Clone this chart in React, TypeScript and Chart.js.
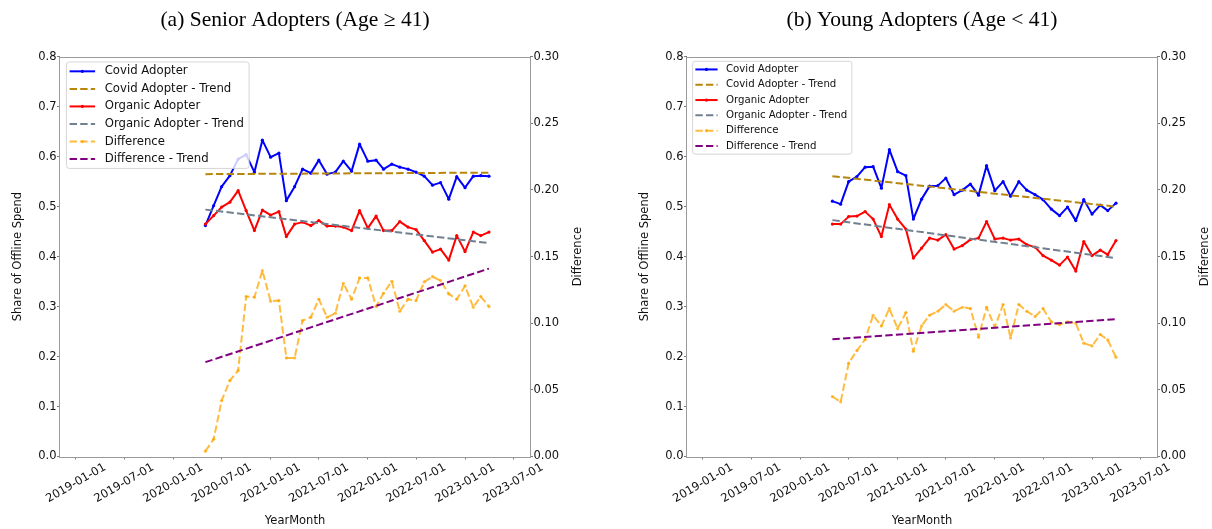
import React, { useEffect, useRef } from 'react';
import { Chart, registerables } from 'chart.js';
Chart.register(...registerables);

// ---------- data ----------
const months = [
  '2020-05-01', '2020-06-01', '2020-07-01', '2020-08-01', '2020-09-01', '2020-10-01', '2020-11-01', '2020-12-01',
  '2021-01-01', '2021-02-01', '2021-03-01', '2021-04-01', '2021-05-01', '2021-06-01', '2021-07-01', '2021-08-01',
  '2021-09-01', '2021-10-01', '2021-11-01', '2021-12-01', '2022-01-01', '2022-02-01', '2022-03-01', '2022-04-01',
  '2022-05-01', '2022-06-01', '2022-07-01', '2022-08-01', '2022-09-01', '2022-10-01', '2022-11-01', '2022-12-01',
  '2023-01-01', '2023-02-01', '2023-03-01', '2023-04-01',
];
const trendMonths = ['2020-05-01', '2023-04-01'];

const xTickLabels = [
  '2019-01-01', '2019-07-01', '2020-01-01', '2020-07-01', '2021-01-01',
  '2021-07-01', '2022-01-01', '2022-07-01', '2023-01-01', '2023-07-01',
];
const xMin = '2018-11-02';
const xMax = '2023-09-02';
const leftTicks = [0, 0.1, 0.2, 0.3, 0.4, 0.5, 0.6, 0.7, 0.8];
const rightTicks = [0, 0.05, 0.1, 0.15, 0.2, 0.25, 0.3];

const seniorCovid = [
  0.462, 0.502, 0.540, 0.562, 0.595, 0.604, 0.569, 0.633, 0.599, 0.607, 0.512, 0.540,
  0.575, 0.567, 0.593, 0.565, 0.569, 0.591, 0.571, 0.625, 0.591, 0.593, 0.575, 0.585,
  0.579, 0.575, 0.569, 0.561, 0.543, 0.548, 0.515, 0.560, 0.538, 0.561, 0.562, 0.561,
];
const seniorOrganic = [
  0.465, 0.482, 0.499, 0.509, 0.532, 0.492, 0.452, 0.493, 0.483, 0.490, 0.440, 0.465,
  0.469, 0.462, 0.472, 0.461, 0.461, 0.459, 0.452, 0.492, 0.457, 0.481, 0.452, 0.452,
  0.470, 0.459, 0.454, 0.432, 0.409, 0.415, 0.393, 0.442, 0.410, 0.449, 0.442, 0.449,
];
const seniorDiff = [
  0.004, 0.013, 0.042, 0.057, 0.0645, 0.120, 0.1195, 0.1395, 0.1165, 0.117, 0.074, 0.074,
  0.102, 0.1045, 0.118, 0.1045, 0.1075, 0.130, 0.118, 0.134, 0.134, 0.1125, 0.1225, 0.1315,
  0.109, 0.118, 0.117, 0.131, 0.135, 0.132, 0.122, 0.118, 0.128, 0.112, 0.120, 0.1125,
];
const seniorCovidTrend = [0.565, 0.568];
const seniorOrganicTrend = [0.494, 0.427];
const seniorDiffTrend = [0.0708, 0.141];

const youngCovid = [
  0.511, 0.505, 0.550, 0.560, 0.579, 0.580, 0.537, 0.614, 0.570, 0.562, 0.475, 0.515,
  0.541, 0.542, 0.557, 0.524, 0.533, 0.545, 0.523, 0.582, 0.532, 0.550, 0.521, 0.550,
  0.533, 0.524, 0.514, 0.495, 0.482, 0.499, 0.472, 0.514, 0.485, 0.503, 0.492, 0.507,
];
const youngOrganic = [
  0.465, 0.465, 0.480, 0.481, 0.490, 0.475, 0.440, 0.504, 0.475, 0.455, 0.397, 0.417,
  0.437, 0.433, 0.444, 0.415, 0.422, 0.434, 0.437, 0.470, 0.435, 0.437, 0.433, 0.435,
  0.424, 0.419, 0.402, 0.393, 0.383, 0.399, 0.371, 0.430, 0.402, 0.413, 0.404, 0.432,
];
const youngDiff = [
  0.045, 0.041, 0.070, 0.0795, 0.0878, 0.106, 0.098, 0.111, 0.096, 0.108, 0.079, 0.098,
  0.106, 0.109, 0.114, 0.109, 0.112, 0.111, 0.0895, 0.112, 0.097, 0.114, 0.089, 0.114,
  0.109, 0.105, 0.111, 0.101, 0.099, 0.101, 0.100, 0.085, 0.083, 0.0915, 0.0875, 0.0745,
];
const youngCovidTrend = [0.561, 0.500];
const youngOrganicTrend = [0.473, 0.397];
const youngDiffTrend = [0.088, 0.103];

// ---------- styling ----------
const SANS = '"DejaVu Sans"';
const TEXT = '#111111';
const FRAME = '#9a9a9a';
const TICK = '#7a7a7a';
const DASH = [7.4, 3.2];

const toPts = (xs: string[], ys: number[]) => xs.map((m, i) => ({ x: Date.parse(m), y: ys[i] }));

type PanelProps = {
  title: string;
  covid: number[];
  organic: number[];
  diff: number[];
  covidTrend: number[];
  organicTrend: number[];
  diffTrend: number[];
  legendSize: number;
  left: number;
};

const W = 585;
const H = 529;

function Panel(p: PanelProps) {
  const ref = useRef<HTMLCanvasElement>(null);
  useEffect(() => {
    if (!ref.current) return;
    const lineBase = { tension: 0, borderJoinStyle: 'round' as const, fill: false };
    const decor = {
      id: 'decor',
      afterDatasetsDraw(chart: any) {
        const { ctx, chartArea: a } = chart;
        ctx.save();
        // frame
        ctx.strokeStyle = FRAME;
        ctx.lineWidth = 1;
        ctx.setLineDash([]);
        ctx.strokeRect(Math.round(a.left) - 0.5, Math.round(a.top) + 0.5, Math.round(a.right) - Math.round(a.left) + 1, Math.round(a.bottom) - Math.round(a.top));
        // right axis title (reads bottom-to-top)
        ctx.fillStyle = TEXT;
        ctx.font = `11.5px ${SANS}`;
        ctx.textAlign = 'center';
        ctx.textBaseline = 'middle';
        ctx.translate(a.right + 48, (a.top + a.bottom) / 2);
        ctx.rotate(-Math.PI / 2);
        ctx.fillText('Difference', 0, 0);
        ctx.restore();

        // legend
        const fs = p.legendSize;
        ctx.save();
        ctx.font = `${fs}px ${SANS}`;
        const ds = chart.data.datasets;
        const textW = Math.max(...ds.map((d: any) => ctx.measureText(d.label).width));
        const bx = a.left + 0.55 * fs;
        const by = a.top + 0.45 * fs;
        const rowH = 1.5 * fs;
        const bw = 3.27 * fs + textW + 0.45 * fs;
        const bh = 1.6 * fs + (ds.length - 1) * rowH;
        ctx.beginPath();
        if ((ctx as any).roundRect) (ctx as any).roundRect(bx, by, bw, bh, 0.25 * fs);
        else ctx.rect(bx, by, bw, bh);
        ctx.fillStyle = 'rgba(255,255,255,0.8)';
        ctx.fill();
        ctx.strokeStyle = 'rgba(204,204,204,0.8)';
        ctx.lineWidth = 1;
        ctx.stroke();
        ds.forEach((d: any, i: number) => {
          const cy = by + 0.8 * fs + i * rowH;
          ctx.beginPath();
          ctx.setLineDash(d.borderDash || []);
          ctx.strokeStyle = d.borderColor;
          ctx.lineWidth = d.borderWidth;
          ctx.moveTo(bx + 0.27 * fs, cy);
          ctx.lineTo(bx + 2.45 * fs, cy);
          ctx.stroke();
          ctx.setLineDash([]);
          if (d.pointRadius > 0) {
            ctx.beginPath();
            ctx.fillStyle = d.borderColor;
            ctx.arc(bx + 1.36 * fs, cy, d.pointRadius, 0, Math.PI * 2);
            ctx.fill();
          }
          ctx.fillStyle = TEXT;
          ctx.textAlign = 'left';
          ctx.textBaseline = 'middle';
          ctx.fillText(d.label, bx + 3.27 * fs, cy);
        });
        ctx.restore();
      },
    };

    const chart = new Chart(ref.current, {
      type: 'line',
      data: {
        datasets: [
          {
            ...lineBase, label: 'Covid Adopter', data: toPts(months, p.covid), yAxisID: 'y', order: 6,
            borderColor: '#0000ff', backgroundColor: '#0000ff', borderWidth: 2,
            pointRadius: 1.6, pointBorderWidth: 0, pointBackgroundColor: '#0000ff',
          },
          {
            ...lineBase, label: 'Covid Adopter - Trend', data: toPts(trendMonths, p.covidTrend), yAxisID: 'y', order: 5,
            borderColor: '#b8860b', backgroundColor: '#b8860b', borderWidth: 2, borderDash: DASH, pointRadius: 0,
          },
          {
            ...lineBase, label: 'Organic Adopter', data: toPts(months, p.organic), yAxisID: 'y', order: 4,
            borderColor: '#ff0000', backgroundColor: '#ff0000', borderWidth: 2,
            pointRadius: 1.6, pointBorderWidth: 0, pointBackgroundColor: '#ff0000',
          },
          {
            ...lineBase, label: 'Organic Adopter - Trend', data: toPts(trendMonths, p.organicTrend), yAxisID: 'y', order: 3,
            borderColor: '#708090', backgroundColor: '#708090', borderWidth: 2, borderDash: DASH, pointRadius: 0,
          },
          {
            ...lineBase, label: 'Difference', data: toPts(months, p.diff), yAxisID: 'y1', order: 2,
            borderColor: 'rgba(255,165,0,0.75)', backgroundColor: 'rgba(255,165,0,0.75)', borderWidth: 2, borderDash: DASH,
            pointRadius: 1.6, pointBorderWidth: 0, pointBackgroundColor: 'rgba(255,165,0,0.75)',
          },
          {
            ...lineBase, label: 'Difference - Trend', data: toPts(trendMonths, p.diffTrend), yAxisID: 'y1', order: 1,
            borderColor: '#800080', backgroundColor: '#800080', borderWidth: 2, borderDash: DASH, pointRadius: 0,
          },
        ],
      },
      options: {
        responsive: false,
        animation: false,
        devicePixelRatio: 1,
        layout: { padding: 0 },
        plugins: {
          legend: { display: false },
          tooltip: { enabled: false },
          title: {
            display: true,
            text: p.title,
            fullSize: false,
            color: '#000',
            font: { family: '"Liberation Serif"', size: 21.5, weight: 'normal' },
            padding: { top: 7.1, bottom: 23.8 },
          },
        },
        scales: {
          x: {
            type: 'linear',
            position: 'bottom',
            bounds: 'data',
            min: Date.parse(xMin),
            max: Date.parse(xMax),
            afterBuildTicks: (s: any) => {
              s.ticks = xTickLabels.map((t) => ({ value: Date.parse(t) }));
            },
            afterFit: (s: any) => { s.height = 72.5; },
            border: { display: false },
            grid: { drawOnChartArea: false, drawTicks: true, tickLength: 3, color: TICK, tickColor: TICK },
            ticks: {
              autoSkip: false,
              maxRotation: 30,
              minRotation: 30,
              padding: 1,
              labelOffset: 29,
              color: TEXT,
              font: { family: SANS, size: 11.5 },
              callback: (_v: any, i: number) => xTickLabels[i],
            },
            title: {
              display: true,
              text: 'YearMonth',
              color: TEXT,
              font: { family: SANS, size: 11.5 },
              padding: { top: 0, bottom: 1.1 },
            },
          },
          y: {
            type: 'linear',
            position: 'left',
            min: 0,
            max: 0.8,
            afterBuildTicks: (s: any) => { s.ticks = leftTicks.map((v) => ({ value: v })); },
            afterFit: (s: any) => { s.width = 60; },
            border: { display: false },
            grid: { drawOnChartArea: false, drawTicks: true, tickLength: 3, color: TICK, tickColor: TICK },
            ticks: {
              padding: 0.5,
              color: TEXT,
              font: { family: SANS, size: 11.5 },
              callback: (v: any) => Number(v).toFixed(1),
            },
            title: {
              display: true,
              text: 'Share of Offline Spend',
              color: TEXT,
              font: { family: SANS, size: 11.5 },
              padding: { top: 11, bottom: 0 },
            },
          },
          y1: {
            type: 'linear',
            position: 'right',
            min: 0,
            max: 0.3,
            afterBuildTicks: (s: any) => { s.ticks = rightTicks.map((v) => ({ value: v })); },
            afterFit: (s: any) => { s.width = 55; },
            border: { display: false },
            grid: { drawOnChartArea: false, drawTicks: true, tickLength: 3, color: TICK, tickColor: TICK },
            ticks: {
              padding: 0.5,
              color: TEXT,
              font: { family: SANS, size: 11.5 },
              callback: (v: any) => Number(v).toFixed(2),
            },
          },
        },
      } as any,
      plugins: [decor],
    });
    return () => chart.destroy();
  }, []);
  return (
    <canvas
      ref={ref}
      width={W}
      height={H}
      style={{ position: 'absolute', left: p.left, top: 0, width: W, height: H }}
    />
  );
}

export default function App() {
  return (
    <div style={{ position: 'fixed', left: 0, top: 0, width: 1212, height: 529, background: '#ffffff', overflow: 'hidden' }}>
      <Panel
        left={0}
        title="(a) Senior Adopters (Age ≥ 41)"
        covid={seniorCovid}
        organic={seniorOrganic}
        diff={seniorDiff}
        covidTrend={seniorCovidTrend}
        organicTrend={seniorOrganicTrend}
        diffTrend={seniorDiffTrend}
        legendSize={11.7}
      />
      <Panel
        left={627}
        title="(b) Young Adopters (Age < 41)"
        covid={youngCovid}
        organic={youngOrganic}
        diff={youngDiff}
        covidTrend={youngCovidTrend}
        organicTrend={youngOrganicTrend}
        diffTrend={youngDiffTrend}
        legendSize={10.2}
      />
    </div>
  );
}
